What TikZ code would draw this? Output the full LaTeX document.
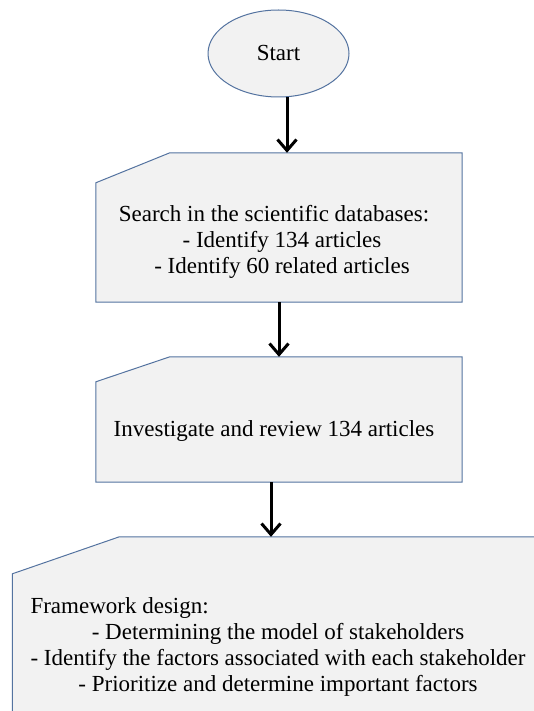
\documentclass[tikz,border=0pt]{standalone}
\usepackage{fontspec}
\setmainfont{Liberation Serif}
\usetikzlibrary{arrows.meta,shapes.geometric,calc}
\definecolor{edgeblue}{RGB}{84,115,160}
\definecolor{boxfill}{RGB}{242,242,242}
\tikzset{
  startnode/.style={ellipse, draw=edgeblue, fill=boxfill, line width=1pt,
    minimum width=141pt, minimum height=87pt, inner sep=0pt},
  frame/.style={draw=edgeblue, fill=boxfill, line width=1pt, line join=miter},
  holder/.style={rectangle, draw=none, inner sep=0pt},
  txt/.style={font=\fontsize{23}{26}\selectfont, inner sep=0pt},
  flow/.style={line width=3pt, -{Straight Barb[length=11pt,width=19pt]}},
}
% box with its top-left corner cut off: #1 node, #2 cut along top, #3 cut along side
\newcommand\cutframe[3]{%
  \path[frame] (#1.south west) -- ($(#1.north west)+(0,#3)$)
    -- ($(#1.north west)+(#2,0)$) -- (#1.north east) -- (#1.south east) -- cycle;}
\begin{document}
\begin{tikzpicture}[x=1pt,y=-1pt]
  \clip (0,0) rectangle (534,711);
  \fill[white] (0,0) rectangle (534,711);

  % start terminal
  \node[startnode, txt] (start) at (278.5,53.5) {Start};

  % frames of the three steps
  \node[holder, minimum width=366pt, minimum height=149pt] (box1) at (279,227.5) {};
  \node[holder, minimum width=366pt, minimum height=125pt] (box2) at (279,419.5) {};
  \node[holder, minimum width=537.5pt, minimum height=193pt] (box3) at (281.25,633.5) {};
  \cutframe{box1}{74}{30}
  \cutframe{box2}{74}{25}
  \cutframe{box3}{107}{37}

  % step texts
  \node[txt] (t1) at (274,242.5) {\begin{tabular}{@{}c@{}}
    Search in the scientific databases:\\
    \hspace*{16pt}- Identify 134 articles\\
    \hspace*{16pt}- Identify 60 related articles
  \end{tabular}};
  \node[txt] (t2) at (274,430.5) {Investigate and review 134 articles};
  \node[txt] (t3) at (278,647.5) {\begin{tabular}{@{}c@{}}
    \multicolumn{1}{@{}l@{}}{Framework design:}\\
    - Determining the model of stakeholders\\
    - Identify the factors associated with each stakeholder\\
    - Prioritize and determine important factors
  \end{tabular}};

  % connectors
  \draw[flow] ([xshift=8.5pt]start.south) -- ([xshift=8pt]box1.north);
  \draw[flow] (box1.south) -- (box2.north);
  \draw[flow] ([xshift=-8pt]box2.south) -- ([xshift=-10.25pt]box3.north);
\end{tikzpicture}
\end{document}
